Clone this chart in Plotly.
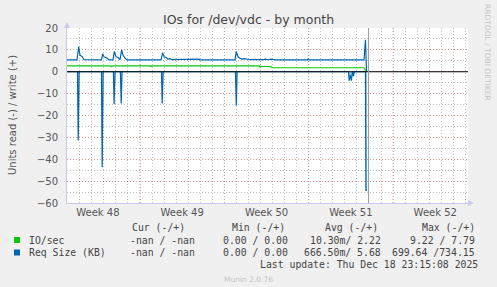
import plotly.graph_objects as go

# ---- data (x = days since 2025-11-23 00:00, Sunday) ----
write_size_t = [0.94, 1.77, 1.91, 2.02, 2.19, 2.35, 3.80, 3.90, 4.01, 4.26, 4.43, 4.76, 4.87, 5.01, 5.17,
                5.34, 5.48, 5.59, 5.76, 5.92, 8.74, 8.88, 8.99, 9.16, 9.32, 9.49, 9.66, 10.82, 10.90, 11.90,
                11.98, 12.48, 12.56, 12.64, 13.14, 13.22, 13.31, 14.88, 14.99, 15.13, 15.30, 15.46, 15.63,
                15.88, 16.13, 17.21, 17.37, 17.62, 17.87, 18.04, 18.20, 20.86, 20.94, 21.02, 25.59, 25.71,
                25.80]
write_size_v = [5.4, 5.4, 11.4, 7.5, 7.0, 5.5, 5.4, 8.2, 6.8, 6.3, 5.4, 5.4, 9.3, 6.8, 6.5,
                5.5, 10.0, 7.5, 6.2, 5.4, 5.4, 8.7, 6.8, 6.5, 5.8, 6.0, 5.5, 5.5, 5.8, 5.8,
                5.4, 5.4, 5.7, 5.4, 5.4, 5.7, 5.4, 5.4, 9.3, 6.8, 6.2, 5.8, 6.0,
                5.6, 5.5, 5.5, 5.8, 5.5, 5.8, 5.6, 5.4, 5.4, 5.8, 5.4, 5.4, 14.6,
                0.0]

read_size_t = [0.94, 1.81, 1.87, 1.95, 3.80, 3.86, 3.94, 4.79, 4.85, 4.93, 5.37, 5.44, 5.51, 8.78, 8.84,
               8.92, 14.92, 14.99, 15.06, 24.30, 24.36, 24.44, 24.54, 24.63, 24.71, 24.79, 25.71, 25.75,
               25.84]
read_size_v = [0, 0, -31.4, 0, 0, -43.7, 0, 0, -14.9, 0, 0, -14.5, 0, 0, -14.5,
               0, 0, -15.4, 0, 0, -4.1, -1.5, -4.1, 0, -2.0, 0, 0, -54.2,
               -54.2]

io_write_t = [0.94, 4.59, 4.65, 4.72, 7.83, 7.89, 7.95, 16.88, 16.96, 17.04, 17.87, 17.95, 25.59, 25.80]
io_write_v = [2.7, 2.7, 2.3, 2.7, 2.7, 2.3, 2.7, 2.7, 2.1, 2.4, 2.4, 1.8, 1.8, 0.0]

week_starts = [7, 14, 21, 28]
week_centers = [3.5, 10.5, 17.5, 24.5, 31.5]
week_labels = ["Week 48", "Week 49", "Week 50", "Week 51", "Week 52"]
now_day = 25.97
x_range = [0.94, 34.22]
y_range = [-60, 20]

legend_names = ["IO/sec", "Req Size (KB)"]
legend_colors = ["#00CC00", "#0066B3"]
col_headers = ["Cur (-/+)", "Min (-/+)", "Avg (-/+)", "Max (-/+)"]
row_io = ["-nan / -nan", "0.00 / 0.00", "10.30m/ 2.22", "9.22 / 7.79"]
row_size = ["-nan / -nan", "0.00 / 0.00", "666.50m/ 5.68", "699.64 /734.15"]

# ---- layout geometry (pixels) ----
W, H = 497, 287
L, R, T, B = 67, 29, 28, 84
PW, PH = W - L - R, H - T - B


def px(x):
    return (x - L) / PW


def py(y):
    return 1 - (y - T) / PH


BLUE = "#0066B3"
GREEN = "#00CC00"

fig = go.Figure()
fig.add_trace(go.Scatter(x=read_size_t, y=read_size_v, mode="lines",
                         line=dict(color=BLUE, width=1.2), fill="tozeroy",
                         fillcolor="rgba(0,102,179,0.35)", hoverinfo="skip"))
fig.add_trace(go.Scatter(x=write_size_t, y=write_size_v, mode="lines",
                         line=dict(color=BLUE, width=1.2), hoverinfo="skip"))
fig.add_trace(go.Scatter(x=io_write_t, y=io_write_v, mode="lines",
                         line=dict(color=GREEN, width=1.1), hoverinfo="skip"))

RED_GRID = "rgba(225,100,100,0.7)"
GREY_GRID = "rgba(170,170,170,0.75)"
AXIS_COL = "#C8C8F0"

fig.update_layout(
    width=W, height=H,
    margin=dict(l=L, r=R, t=T, b=B, pad=0),
    paper_bgcolor="#F0F0F0", plot_bgcolor="#FFFFFF",
    showlegend=False,
    font=dict(family="DejaVu Sans", size=10, color="#555555"),
    xaxis=dict(range=x_range, tickmode="array", tickvals=week_centers, ticktext=week_labels,
               showgrid=False, zeroline=False, showline=True, linecolor=AXIS_COL, linewidth=1,
               ticks="", tickfont=dict(size=10, color="#555555"),
               minor=dict(dtick=1, tick0=0, showgrid=True, gridcolor=GREY_GRID,
                          griddash="1px,2px", gridwidth=1, ticks="")),
    yaxis=dict(range=y_range, dtick=10, tick0=0, showgrid=True, gridcolor=RED_GRID,
               griddash="1px,2px", gridwidth=1, zeroline=False,
               showline=True, linecolor=AXIS_COL, linewidth=1,
               ticks="", ticklabelstandoff=6, tickfont=dict(size=10, color="#555555"),
               minor=dict(dtick=5, showgrid=True, gridcolor=GREY_GRID, griddash="1px,2px",
                          gridwidth=1, ticks="")),
)

shapes = []
for ws in week_starts:
    shapes.append(dict(type="line", xref="x", yref="paper", x0=ws, x1=ws, y0=0, y1=1,
                       line=dict(color=RED_GRID, width=1, dash="1px,2px"), layer="below"))
# zero line on top
shapes.append(dict(type="line", xref="paper", yref="y", x0=0, x1=1, y0=0, y1=0,
                   line=dict(color="#000000", width=1)))
shapes.append(dict(type="line", xref="x", yref="paper", x0=now_day, x1=now_day, y0=0, y1=1,
                   line=dict(color="#999999", width=1)))
# axis arrows
shapes.append(dict(type="path", xref="paper", yref="paper",
                   path=f"M {px(64)} {py(28)} L {px(70)} {py(28)} L {px(67)} {py(22)} Z",
                   fillcolor=AXIS_COL, line=dict(width=0)))
shapes.append(dict(type="path", xref="paper", yref="paper",
                   path=f"M {px(468)} {py(200)} L {px(468)} {py(206)} L {px(474)} {py(203)} Z",
                   fillcolor=AXIS_COL, line=dict(width=0)))
# legend squares
for i, c in enumerate(legend_colors):
    yc = 240 + i * 12.5
    shapes.append(dict(type="rect", xref="paper", yref="paper",
                       x0=px(14), x1=px(20), y0=py(yc - 3), y1=py(yc + 3),
                       fillcolor=c, line=dict(width=0)))
fig.update_layout(shapes=shapes)

ann = []
ann.append(dict(text="IOs for /dev/vdc - by month", x=px(248), y=py(19), xref="paper", yref="paper",
                showarrow=False, xanchor="center", yanchor="middle",
                font=dict(family="DejaVu Sans", size=12.5, color="#444444")))
ann.append(dict(text="Units read (-) / write (+)", x=px(12), y=py(115), xref="paper", yref="paper",
                showarrow=False, textangle=-90, xanchor="center", yanchor="middle",
                font=dict(family="DejaVu Sans", size=10, color="#555555")))
ann.append(dict(text="RRDTOOL / TOBI OETIKER", x=px(488), y=py(52), xref="paper", yref="paper",
                showarrow=False, textangle=90, xanchor="center", yanchor="middle",
                font=dict(family="DejaVu Sans", size=7.5, color="#C4C4C4")))

MONO = dict(family="DejaVu Sans Mono", size=9.8, color="#444444")


def mono(text, xr, yc, anchor="right"):
    ann.append(dict(text=text, x=px(xr), y=py(yc), xref="paper", yref="paper", showarrow=False,
                    xanchor=anchor, yanchor="middle", font=MONO))


hdr_right = [187, 287, 380, 476.5]
for h, xr in zip(col_headers, hdr_right):
    mono(h.replace(" ", "&nbsp;"), xr, 227.5)
cell_right = [197, 290, 383, 476.5]
for row, yc in ((row_io, 240), (row_size, 252.5)):
    for v, xr in zip(row, cell_right):
        mono(v.replace(" ", "&nbsp;"), xr, yc)
for name, yc in zip(legend_names, (240, 252.5)):
    mono(name.replace(" ", "&nbsp;"), 26.5, yc, anchor="left")
mono("Last&nbsp;update:&nbsp;Thu&nbsp;Dec&nbsp;18&nbsp;23:15:08&nbsp;2025", 480, 264)
ann.append(dict(text="Munin 2.0.76", x=px(248), y=py(279), xref="paper", yref="paper",
                showarrow=False, xanchor="center", yanchor="middle",
                font=dict(family="DejaVu Sans", size=7.5, color="#C4C4C4")))
fig.update_layout(annotations=ann)

fig.write_html("out.html")
